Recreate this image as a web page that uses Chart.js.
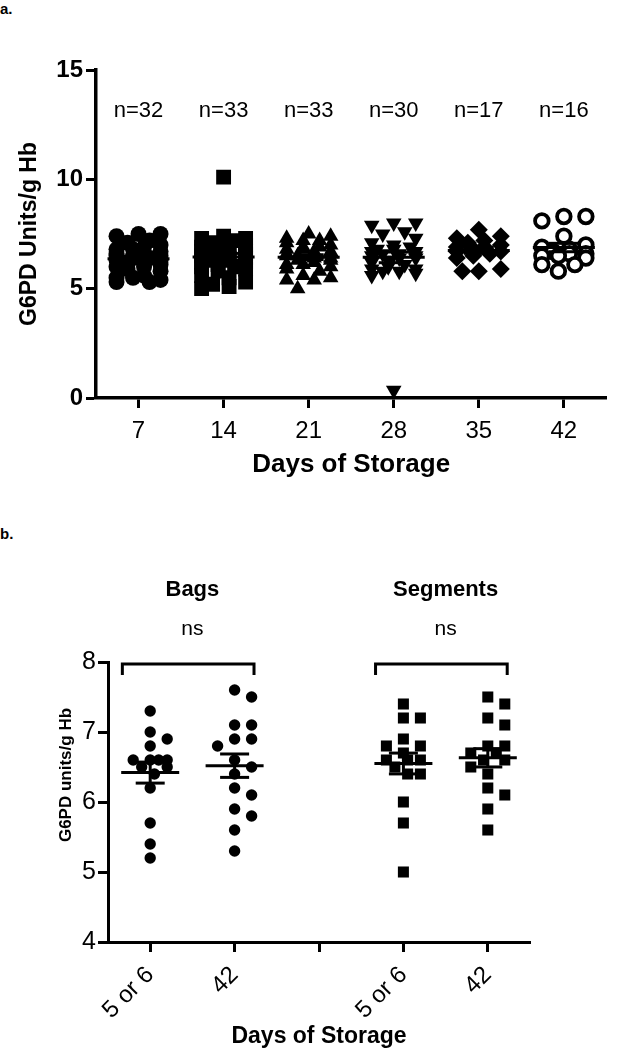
<!DOCTYPE html>
<html><head><meta charset="utf-8">
<script src="https://cdn.jsdelivr.net/npm/chart.js@4.4.1/dist/chart.umd.min.js"></script>
<style>
html,body{margin:0;padding:0;background:#fff;width:617px;height:1050px;overflow:hidden;}
#ca{position:absolute;left:0;top:0;}
#cb{position:absolute;left:0;top:490px;}
.lbl{position:absolute;font-family:"Liberation Sans",Arial,sans-serif;font-weight:bold;font-size:15px;color:#000;line-height:15px;}
</style></head><body>
<div class="lbl" style="left:0;top:1px">a.</div>
<div class="lbl" style="left:0;top:526px">b.</div>
<canvas id="ca" width="617" height="490"></canvas>
<canvas id="cb" width="617" height="560"></canvas>
<script>
// ---------- Panel a data ----------
const daysA = ['7','14','21','28','35','42'];
const nLabelsA = ['n=32','n=33','n=33','n=30','n=17','n=16'];
const yTicksA = [0,5,10,15];
const day7  = [7.5,7.5,7.4,7.2,7.1,7.0,6.9,6.8,6.8,6.7,6.6,6.6,6.5,6.5,6.5,6.4,6.4,6.3,6.3,6.2,6.2,6.1,6.0,6.0,5.9,5.8,5.6,5.5,5.5,5.4,5.3,5.3];
const day14 = [10.1,7.4,7.3,7.3,7.2,7.1,7.0,6.9,6.9,6.8,6.7,6.7,6.6,6.6,6.5,6.5,6.4,6.4,6.3,6.3,6.2,6.2,6.1,6.0,6.0,5.9,5.8,5.6,5.5,5.3,5.2,5.1,5.0];
const day21 = [7.5,7.4,7.3,7.2,7.2,7.1,7.0,6.9,6.9,6.8,6.8,6.7,6.7,6.6,6.6,6.5,6.5,6.5,6.4,6.4,6.3,6.3,6.2,6.1,6.1,6.0,5.9,5.8,5.6,5.5,5.4,5.4,5.0];
const day28 = [8.0,8.0,7.9,7.6,7.5,7.3,7.1,7.0,6.9,6.8,6.8,6.7,6.7,6.6,6.6,6.5,6.5,6.4,6.4,6.3,6.2,6.1,6.0,5.9,5.9,5.8,5.8,5.7,5.6,0.35];
const day35 = [7.7,7.4,7.3,7.2,7.1,7.0,6.9,6.9,6.8,6.7,6.7,6.6,6.5,6.4,5.9,5.8,5.8];
const day42 = [8.3,8.3,8.1,7.4,7.0,6.9,6.8,6.7,6.6,6.6,6.5,6.5,6.4,6.1,6.1,5.8];

// ---------- Panel b data ----------
const daysB = ['5 or 6','42','','5 or 6','42'];
const groupTitlesB = ['Bags','Segments'];
const sigLabelsB = ['ns','ns'];
const yTicksB = [4,5,6,7,8];
const bags5or6 = [7.3,7.0,6.9,6.8,6.6,6.6,6.6,6.6,6.5,6.5,6.4,6.2,5.7,5.4,5.2];
const bags42   = [7.6,7.5,7.1,7.1,6.9,6.9,6.8,6.6,6.5,6.4,6.2,6.1,5.9,5.8,5.6,5.3];
const seg5or6  = [7.4,7.2,7.2,6.9,6.8,6.8,6.7,6.6,6.6,6.6,6.5,6.4,6.4,6.0,5.7,5.0];
const seg42    = [7.5,7.4,7.2,7.1,6.8,6.8,6.7,6.7,6.6,6.6,6.5,6.4,6.2,6.1,5.9,5.6];

const FONT = '"Liberation Sans", Arial, Helvetica, sans-serif';
Chart.defaults.font.family = FONT;
Chart.defaults.color = '#000';

function swarmOffsets(values, pxPerY, colPx, markerPx, maxCols) {
  const order = values.map((v,i)=>i).sort((a,b)=>values[b]-values[a]);
  const cands = [0,1,-1,0.5,-0.5,1.5,-1.5,0.25,-0.25,0.75,-0.75,1.25,-1.25].filter(c=>Math.abs(c)<=maxCols+1e-9);
  const placed = [], off = new Array(values.length).fill(0);
  for (const i of order) {
    const y = values[i]*pxPerY;
    let best = 0, bestScore = Infinity;
    for (const c of cands) {
      const x = c*colPx; let score = 0;
      for (const p of placed) { const d = Math.hypot(x-p.x, y-p.y); if (d < markerPx) score += markerPx - d; }
      if (score === 0) { best = c; bestScore = 0; break; }
      if (score < bestScore) { bestScore = score; best = c; }
    }
    off[i] = best; placed.push({x: best*colPx, y});
  }
  return off;
}
function applySwarm(chart, groups, colPx, markerPx, maxCols) {
  const xs = chart.scales.x, ys = chart.scales.y;
  const pxPerX = Math.abs(xs.getPixelForValue(1) - xs.getPixelForValue(0));
  const pxPerY = Math.abs(ys.getPixelForValue(1) - ys.getPixelForValue(0));
  groups.forEach((g,k) => {
    const off = swarmOffsets(g.values, pxPerY, colPx, markerPx, maxCols);
    chart.data.datasets[k].data = g.values.map((v,i)=>({x: g.pos + off[i]*colPx/pxPerX, y: v}));
  });
  chart.update('none');
}
function stats(vals){
  const n = vals.length, m = vals.reduce((a,b)=>a+b,0)/n;
  const sd = Math.sqrt(vals.reduce((a,b)=>a+(b-m)*(b-m),0)/(n-1));
  return {m, se: sd/Math.sqrt(n)};
}
const meanSemPlugin = {
  id: 'meanSem',
  afterDatasetsDraw(chart, args, o) {
    const {ctx} = chart, xs = chart.scales.x, ys = chart.scales.y;
    ctx.save(); ctx.strokeStyle = '#000'; ctx.lineWidth = o.lw; ctx.lineCap = 'butt';
    const L = (x1,y1,x2,y2)=>{ctx.beginPath();ctx.moveTo(x1,y1);ctx.lineTo(x2,y2);ctx.stroke();};
    o.groups.forEach(g => {
      const s = stats(g.values), cx = xs.getPixelForValue(g.pos);
      const ym = ys.getPixelForValue(s.m), yt = ys.getPixelForValue(s.m+s.se), yb = ys.getPixelForValue(s.m-s.se);
      L(cx-o.meanHalf, ym, cx+o.meanHalf, ym);
      L(cx, yt, cx, yb);
      L(cx-o.capHalf, yt, cx+o.capHalf, yt);
      L(cx-o.capHalf, yb, cx+o.capHalf, yb);
    });
    ctx.restore();
  }
};
function axisCommon(extra){
  return Object.assign({
    grid:{display:true, drawOnChartArea:false, drawTicks:true, tickLength:10, tickWidth:3, tickColor:'#000', color:'#000'},
    border:{display:true, width:3.5, color:'#000'}
  }, extra);
}

// ---------- Panel a ----------
const groupsA = [day7,day14,day21,day28,day35,day42].map((v,i)=>({values:v, pos:i+1}));
const stylesA = [
  {pointStyle:'circle', radius:8, bg:'#000', bw:0},
  {pointStyle:'rect', radius:10.5, bg:'#000', bw:0},
  {pointStyle:'triangle', radius:9, bg:'#000', bw:0},
  {pointStyle:'triangle', radius:9, bg:'#000', bw:0, rot:180},
  {pointStyle:'rectRot', radius:9, bg:'#000', bw:0},
  {pointStyle:'circle', radius:6.8, bg:'#fff', bw:3.8}
];
const nLabelPlugin = {
  id:'nLabels',
  afterDraw(chart){
    const {ctx} = chart, xs = chart.scales.x, ys = chart.scales.y;
    ctx.save(); ctx.font = '22px '+FONT; ctx.fillStyle='#000'; ctx.textAlign='center'; ctx.textBaseline='middle';
    nLabelsA.forEach((t,i)=> ctx.fillText(t, xs.getPixelForValue(i+1), ys.getPixelForValue(13.15)));
    ctx.restore();
  }
};
const chartA = new Chart(document.getElementById('ca'), {
  type:'scatter',
  data:{datasets: groupsA.map((g,i)=>({
    label: daysA[i], data: g.values.map(v=>({x:g.pos,y:v})),
    pointStyle: stylesA[i].pointStyle, pointRadius: stylesA[i].radius, pointRotation: stylesA[i].rot||0,
    pointBackgroundColor: stylesA[i].bg, pointBorderColor:'#000', pointBorderWidth: stylesA[i].bw
  }))},
  options:{
    responsive:false, animation:false, devicePixelRatio:1,
    layout:{padding:{top:70,left:0,right:2,bottom:0}},
    plugins:{legend:{display:false}, tooltip:{enabled:false},
      meanSem:{groups:groupsA, lw:3, meanHalf:31, capHalf:15}},
    scales:{
      x: axisCommon({type:'linear', min:0.5, max:6.5,
        afterBuildTicks: s => { s.ticks = daysA.map((d,i)=>({value:i+1})); },
        afterFit: s => { s.height = 92; },
        ticks:{autoSkip:false, maxRotation:0, padding:9, font:{size:24}, callback:(v)=>daysA[v-1]},
        title:{display:true, text:'Days of Storage', font:{size:26, weight:'bold'}, padding:{top:0,bottom:10}}
      }),
      y: axisCommon({type:'linear', min:0, max:15,
        afterBuildTicks: s => { s.ticks = yTicksA.map(v=>({value:v})); },
        afterFit: s => { s.width = 96; },
        ticks:{padding:3, font:{size:24, weight:'bold'}},
        title:{display:true, text:'G6PD Units/g Hb', font:{size:23, weight:'bold'}, padding:{top:16,bottom:0}}
      })
    }
  },
  plugins:[meanSemPlugin, nLabelPlugin]
});
applySwarm(chartA, groupsA, 22, 16, 1);

// ---------- Panel b ----------
const groupsB = [{values:bags5or6,pos:1},{values:bags42,pos:2},{values:seg5or6,pos:4},{values:seg42,pos:5}];
const stylesB = [
  {pointStyle:'circle', radius:5.7},{pointStyle:'circle', radius:5.7},
  {pointStyle:'rect', radius:7.8},{pointStyle:'rect', radius:7.8}
];
const annotB = {
  id:'annotB',
  afterDraw(chart){
    const {ctx, chartArea} = chart, xs = chart.scales.x;
    ctx.save(); ctx.fillStyle='#000'; ctx.strokeStyle='#000'; ctx.textAlign='center'; ctx.textBaseline='middle';
    const pairs = [[1,2],[4,5]];
    pairs.forEach((p,k)=>{
      const cx = (xs.getPixelForValue(p[0]) + xs.getPixelForValue(p[1]))/2;
      ctx.font = 'bold 22px '+FONT; ctx.fillText(groupTitlesB[k], cx, chartArea.top-72);
      ctx.font = '21px '+FONT; ctx.fillText(sigLabelsB[k], cx, chartArea.top-33);
      const x1 = xs.getPixelForValue(p[0]-0.33), x2 = xs.getPixelForValue(p[1]+0.23);
      const yb = chartArea.top+2, yl = chartArea.top+13;
      ctx.lineWidth = 3; ctx.lineJoin='miter';
      ctx.beginPath(); ctx.moveTo(x1,yl); ctx.lineTo(x1,yb); ctx.lineTo(x2,yb); ctx.lineTo(x2,yl); ctx.stroke();
    });
    ctx.translate(66, 285); ctx.rotate(-Math.PI/2);
    ctx.font = 'bold 17px '+FONT; ctx.fillText('G6PD units/g Hb', 0, 0);
    ctx.restore();
  }
};
const chartB = new Chart(document.getElementById('cb'), {
  type:'scatter',
  data:{datasets: groupsB.map((g,i)=>({
    data: g.values.map(v=>({x:g.pos,y:v})),
    pointStyle: stylesB[i].pointStyle, pointRadius: stylesB[i].radius,
    pointBackgroundColor:'#000', pointBorderColor:'#000', pointBorderWidth:0
  }))},
  options:{
    responsive:false, animation:false, devicePixelRatio:1,
    layout:{padding:{top:172,left:0,right:87,bottom:0}},
    plugins:{legend:{display:false}, tooltip:{enabled:false},
      meanSem:{groups:groupsB, lw:3, meanHalf:29, capHalf:14.5}},
    scales:{
      x: axisCommon({type:'linear', min:0.5, max:5.5,
        border:{display:true, width:3, color:'#000'},
        afterBuildTicks: s => { s.ticks = daysB.map((d,i)=>({value:i+1})); },
        afterFit: s => { s.height = 108; },
        ticks:{autoSkip:false, minRotation:45, maxRotation:45, padding:9, font:{size:24}, callback:(v)=>daysB[v-1]},
        title:{display:true, text:'Days of Storage', font:{size:23, weight:'bold'}, padding:{top:0,bottom:0}}
      }),
      y: axisCommon({type:'linear', min:4, max:8,
        border:{display:true, width:3, color:'#000'},
        afterBuildTicks: s => { s.ticks = yTicksB.map(v=>({value:v})); },
        afterFit: s => { s.width = 108; },
        ticks:{padding:2, font:{size:25}}
      })
    }
  },
  plugins:[meanSemPlugin, annotB]
});
applySwarm(chartB, groupsB, 17, 12, 1);
</script>
</body></html>
